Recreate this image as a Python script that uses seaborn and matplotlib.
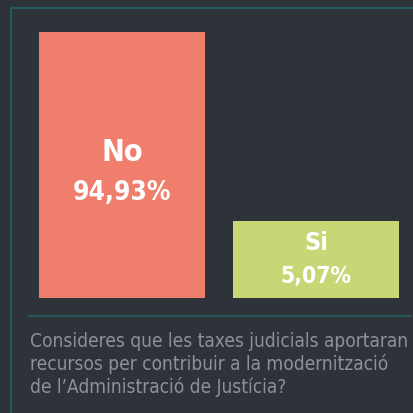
import matplotlib
matplotlib.use("Agg")
import matplotlib.pyplot as plt
import seaborn as sns
import pandas as pd
from matplotlib import font_manager
from matplotlib.font_manager import FontProperties
from matplotlib.lines import Line2D

categories = ["No", "Si"]
percent_labels = ["94,93%", "5,07%"]
display_heights = [94.93, 27.5]   # bar heights as drawn in the reference (not proportional)
bar_colors = ["#f07e6c", "#c9d675"]
question_lines = [
    "Consideres que les taxes judicials aportaran",
    "recursos per contribuir a la modernització",
    "de l\u2019Administració de Justícia?",
]

BG = "#2e3239"
TEAL = "#245a5b"
TXT = "#8e9195"

sns.set_theme(style="white")
plt.rcParams["font.family"] = ["DejaVu Sans"]


def pick_condensed(weight_bold=False):
    cands = []
    for f in font_manager.fontManager.ttflist:
        nm = (f.name + " " + f.fname).lower()
        st = str(f.stretch).lower()
        cond = ("condensed" in nm or "narrow" in nm or "condensed" in st)
        if not cond or "italic" in nm or "oblique" in nm or f.style != "normal":
            continue
        w = f.weight if isinstance(f.weight, int) else (700 if "bold" in str(f.weight) else 400)
        target = 700 if weight_bold else 400
        score = abs(w - target)
        if "extra" in nm or "ultra" in nm:
            score += 50
        cands.append((score, f.fname))
    if cands:
        cands.sort()
        return FontProperties(fname=cands[0][1])
    return FontProperties(family="DejaVu Sans", weight="bold" if weight_bold else "normal")


fp_reg = pick_condensed(False)
fp_bold = pick_condensed(True)

fig = plt.figure(figsize=(4.14, 4.14), dpi=100, facecolor=BG)
W = H = 414.0

ax = fig.add_axes([25 / W, 1 - 299 / H, 388 / W, 266 / H])
ax.set_facecolor(BG)
df = pd.DataFrame({"cat": categories, "h": display_heights})
sns.barplot(data=df, x="cat", y="h", hue="cat", palette=bar_colors,
            saturation=1, width=166 / 194, legend=False, ax=ax, linewidth=0)
for p in ax.patches:
    p.set_edgecolor("none")
ax.set_xlim(-0.5, 1.5)
ax.set_ylim(0, display_heights[0])
ax.axis("off")

renderer = fig.canvas.get_renderer()


def fit_text(x, y, s, fp, size, target_w, **kw):
    t = fig.text(x, y, s, fontproperties=fp, **kw)
    t.set_fontsize(size)
    w = t.get_window_extent(renderer).width
    t.set_fontsize(size * target_w / w)
    return t


# labels inside bars
specs = [((153, 193), (26, 98), (33,)), ((243, 277), (20, 71), (20,))]
for i, (c, p) in enumerate(zip(categories, percent_labels)):
    (y1, y2), (cat_h, pct_w), _ = specs[i]
    xc = (25 + 97 + 194 * i) / W
    fit_text(xc, 1 - y2 / H, p, fp_bold, 20, pct_w, ha="center", va="center", color="white")
    t = fig.text(xc, 1 - y1 / H, c, fontproperties=fp_bold, ha="center", va="center", color="white")
    t.set_fontsize(22 if i == 0 else 18)

# frame lines
fig.add_artist(Line2D([11 / W, 1], [1 - 8.5 / H, 1 - 8.5 / H], color=TEAL, lw=1.6))
fig.add_artist(Line2D([11 / W, 11 / W], [1 - 8.5 / H, 0], color=TEAL, lw=1.6))
fig.add_artist(Line2D([29 / W, 411 / W], [1 - 317 / H, 1 - 317 / H], color=TEAL, lw=1.4))

# question text
t0 = fit_text(30 / W, 1 - 347 / H, question_lines[0], fp_reg, 15, 379,
              ha="left", va="baseline", color=TXT)
size = t0.get_fontsize()
for k, line in enumerate(question_lines[1:], start=1):
    t = fig.text(30 / W, 1 - (347 + 23 * k) / H, line, fontproperties=fp_reg,
                 ha="left", va="baseline", color=TXT)
    t.set_fontsize(size)

fig.savefig("out.png", dpi=100, facecolor=BG)
